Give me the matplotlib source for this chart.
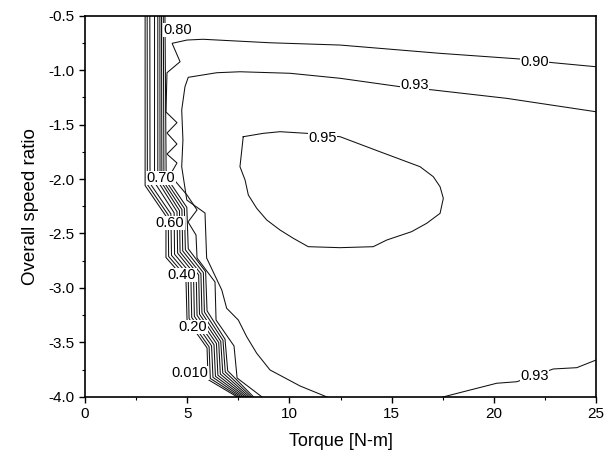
import matplotlib
matplotlib.use("Agg")
import matplotlib.pyplot as plt
from matplotlib.ticker import MultipleLocator, FormatStrFormatter

plt.rcParams['font.family'] = ['Liberation Sans', 'DejaVu Sans']
plt.rcParams['axes.unicode_minus'] = False

# ---- contour lines (torque [N-m], overall speed ratio) ----
# steep low-torque cluster, levels 0.01 ... 0.80
c001_t = [2.94, 2.94, 3.96, 3.96, 4.94, 4.99, 5.97, 6.02, 7.45]
c001_r = [-0.5, -2.06, -2.34, -2.72, -2.93, -3.29, -3.55, -3.84, -4.0]
c010_t = [3.04, 3.05, 4.07, 4.09, 5.05, 5.09, 6.07, 6.13, 7.55]
c010_r = [-0.5, -2.05, -2.33, -2.71, -2.92, -3.28, -3.54, -3.83, -4.0]
c020_t = [3.17, 3.18, 4.20, 4.23, 5.18, 5.22, 6.19, 6.26, 7.65]
c020_r = [-0.5, -2.04, -2.32, -2.70, -2.91, -3.27, -3.53, -3.82, -4.0]
c030_t = [3.40, 3.40, 4.36, 4.38, 5.31, 5.35, 6.31, 6.38, 7.75]
c030_r = [-0.5, -2.03, -2.31, -2.69, -2.90, -3.26, -3.52, -3.81, -4.0]
c040_t = [3.56, 3.56, 4.50, 4.53, 5.44, 5.48, 6.43, 6.50, 7.85]
c040_r = [-0.5, -2.02, -2.30, -2.68, -2.89, -3.25, -3.51, -3.80, -4.0]
c050_t = [3.66, 3.67, 4.62, 4.65, 5.56, 5.60, 6.54, 6.62, 7.95]
c050_r = [-0.5, -2.01, -2.29, -2.67, -2.88, -3.24, -3.50, -3.79, -4.0]
c060_t = [3.74, 3.76, 4.74, 4.78, 5.67, 5.72, 6.64, 6.74, 8.05]
c060_r = [-0.5, -2.00, -2.28, -2.66, -2.87, -3.23, -3.49, -3.78, -4.0]
c070_t = [3.83, 3.86, 4.86, 4.91, 5.79, 5.84, 6.75, 6.86, 8.15]
c070_r = [-0.5, -1.99, -2.27, -2.65, -2.86, -3.22, -3.48, -3.77, -4.0]
c080_t = [3.91, 3.97, 4.98, 5.05, 5.90, 5.97, 6.85, 6.98, 8.25]
c080_r = [-0.5, -1.98, -2.26, -2.64, -2.85, -3.21, -3.47, -3.76, -4.0]

c090_t = [25.0, 22.90, 21.28, 17.37, 12.48, 9.05, 5.77, 4.99, 4.26, 4.65, 4.01,
          3.96, 4.50, 4.01, 4.50, 4.01, 4.50, 4.16, 4.99, 5.48, 5.04, 5.43,
          5.48, 6.36, 6.41, 7.29, 7.44, 8.66]
c090_r = [-0.970, -0.933, -0.899, -0.847, -0.771, -0.750, -0.718, -0.725, -0.755,
          -0.924, -1.025, -1.385, -1.483, -1.578, -1.679, -1.771, -1.853, -1.963,
          -2.147, -2.284, -2.394, -2.514, -2.725, -2.945, -3.294, -3.532, -3.826,
          -4.0]

c093a_t = [25.0, 20.63, 17.03, 15.41, 12.48, 10.03, 7.58, 6.44, 5.05, 4.89, 4.73,
           4.79, 4.73, 4.98, 5.87, 5.95, 6.69, 6.93, 7.50, 7.91, 8.40, 9.05,
           10.52, 11.84]
c093a_r = [-1.383, -1.260, -1.183, -1.153, -1.076, -1.030, -1.016, -1.025, -1.067,
           -1.153, -1.367, -1.642, -1.887, -2.193, -2.312, -2.725, -3.018, -3.186,
           -3.294, -3.447, -3.599, -3.752, -3.899, -4.0]
c093b_t = [17.51, 18.84, 20.14, 21.12, 22.91, 24.06, 25.0]
c093b_r = [-4.0, -3.936, -3.874, -3.860, -3.743, -3.731, -3.661]

c095_t = [7.74, 8.72, 9.54, 10.85, 12.48, 14.43, 16.39, 17.04, 17.37, 17.53, 17.37,
          16.72, 15.98, 15.25, 14.76, 14.10, 12.48, 10.92, 10.19, 9.54, 8.89, 8.40,
          7.99, 7.83, 7.58, 7.67, 7.74]
c095_r = [-1.612, -1.581, -1.566, -1.581, -1.612, -1.750, -1.887, -1.979, -2.071,
          -2.177, -2.315, -2.406, -2.483, -2.529, -2.560, -2.621, -2.630, -2.621,
          -2.544, -2.468, -2.376, -2.269, -2.147, -2.009, -1.887, -1.734, -1.612]

label_texts = ["0.80", "0.90", "0.93", "0.95", "0.70", "0.60", "0.40", "0.20", "0.010", "0.93"]
label_t = [4.55, 22.0, 16.14, 11.64, 3.72, 4.16, 4.75, 5.28, 5.14, 22.0]
label_r = [-0.633, -0.925, -1.138, -1.624, -1.99, -2.404, -2.881, -3.358, -3.78, -3.81]

x_ticks = [0, 5, 10, 15, 20, 25]
y_ticks = [-4.0, -3.5, -3.0, -2.5, -2.0, -1.5, -1.0, -0.5]

lines = [(c001_t, c001_r), (c010_t, c010_r), (c020_t, c020_r), (c030_t, c030_r),
         (c040_t, c040_r), (c050_t, c050_r), (c060_t, c060_r), (c070_t, c070_r),
         (c080_t, c080_r), (c090_t, c090_r), (c093a_t, c093a_r), (c093b_t, c093b_r),
         (c095_t, c095_r)]

fig = plt.figure(figsize=(6.13, 4.59), dpi=100)
ax = fig.add_axes([0.1387, 0.1351, 0.8336, 0.8311])

for t, r in lines:
    ax.plot(t, r, color='#111111', lw=0.75, solid_joinstyle='miter')

for s, t, r in zip(label_texts, label_t, label_r):
    ax.text(t, r, s, fontsize=10.5, ha='center', va='center', zorder=5,
            bbox=dict(facecolor='white', edgecolor='none', pad=0.2))

ax.set_xlim(0, 25)
ax.set_ylim(-4.0, -0.5)
ax.set_xticks(x_ticks)
ax.set_yticks(y_ticks)
ax.xaxis.set_minor_locator(MultipleLocator(2.5))
ax.yaxis.set_minor_locator(MultipleLocator(0.25))
ax.yaxis.set_major_formatter(FormatStrFormatter('%.1f'))
ax.tick_params(which='major', direction='out', length=4, width=1, labelsize=11)
ax.tick_params(which='minor', direction='out', length=2.5, width=0.8)
ax.tick_params(top=False, right=False, which='both')
for sp in ax.spines.values():
    sp.set_linewidth(1.2)

ax.set_xlabel('Torque [N-m]', fontsize=13, labelpad=8)
ax.set_ylabel('Overall speed ratio', fontsize=13.5, labelpad=7)

fig.savefig('out.png', dpi=100)
